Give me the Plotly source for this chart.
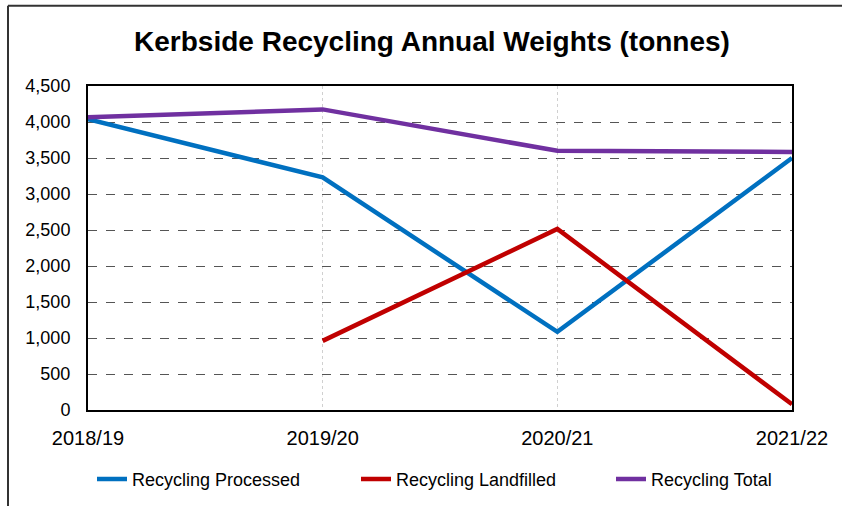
import plotly.graph_objects as go

years = ["2018/19", "2019/20", "2020/21", "2021/22"]
processed = [4040, 3230, 1085, 3500]
landfilled = [None, 960, 2515, 80]
total = [4065, 4175, 3600, 3585]
y_ticks = [0, 500, 1000, 1500, 2000, 2500, 3000, 3500, 4000, 4500]

W, H = 842, 510
L, R, T, B = 88, 50, 86, 97

fig = go.Figure()
fig.add_trace(go.Scatter(x=years, y=processed, name="Recycling Processed", mode="lines",
                         line=dict(color="#0070C0", width=4.5), legend="legend"))
fig.add_trace(go.Scatter(x=years, y=landfilled, name="Recycling Landfilled", mode="lines",
                         line=dict(color="#C00000", width=4.5), legend="legend2"))
fig.add_trace(go.Scatter(x=years, y=total, name="Recycling Total", mode="lines",
                         line=dict(color="#7030A0", width=4.5), legend="legend3"))

pw = W - L - R
ph = H - T - B
def px_x(x):
    return (x - L) / pw
def px_y(y):
    return (H - B - y) / ph

FONT = "Liberation Sans, Arial, sans-serif"

def leg(xpx):
    return dict(orientation="h", x=px_x(xpx), xanchor="left", y=px_y(483), yanchor="middle",
                font=dict(size=18, color="#000"), bgcolor="rgba(0,0,0,0)")

fig.update_layout(
    width=W, height=H,
    margin=dict(l=L, r=R, t=T, b=B),
    paper_bgcolor="white", plot_bgcolor="white",
    font=dict(family=FONT, color="#000000"),
    title=dict(text="<b>Kerbside Recycling Annual Weights (tonnes)</b>",
               x=(432) / W, xanchor="center", y=1 - 41 / H, yanchor="middle",
               font=dict(size=28, family=FONT, color="#000")),
    showlegend=True,
    legend=leg(92),
    legend2=leg(356),
    legend3=leg(611),
    xaxis=dict(type="category", range=[0, 3], showgrid=True, gridcolor="#D0D0D0",
               griddash="dot", gridwidth=1, showline=True, linecolor="#000", linewidth=2,
               mirror=True, ticks="", tickfont=dict(size=20, color="#000"), zeroline=False,
               ticklabelstandoff=9),
    yaxis=dict(range=[0, 4500], tickvals=y_ticks, tickformat=",", showgrid=True,
               gridcolor="#555555", griddash="dash", gridwidth=1, showline=True,
               linecolor="#000", linewidth=2, mirror=True, ticks="",
               tickfont=dict(size=18, color="#000"), zeroline=False,
               ticklabelstandoff=12),
    shapes=[
        dict(type="line", xref="paper", yref="paper", x0=px_x(8), x1=px_x(842),
             y0=px_y(5), y1=px_y(5), line=dict(color="#333", width=2)),
        dict(type="line", xref="paper", yref="paper", x0=px_x(8), x1=px_x(8),
             y0=px_y(5), y1=px_y(510), line=dict(color="#333", width=2)),
    ],
)
fig.write_html("out.html")
